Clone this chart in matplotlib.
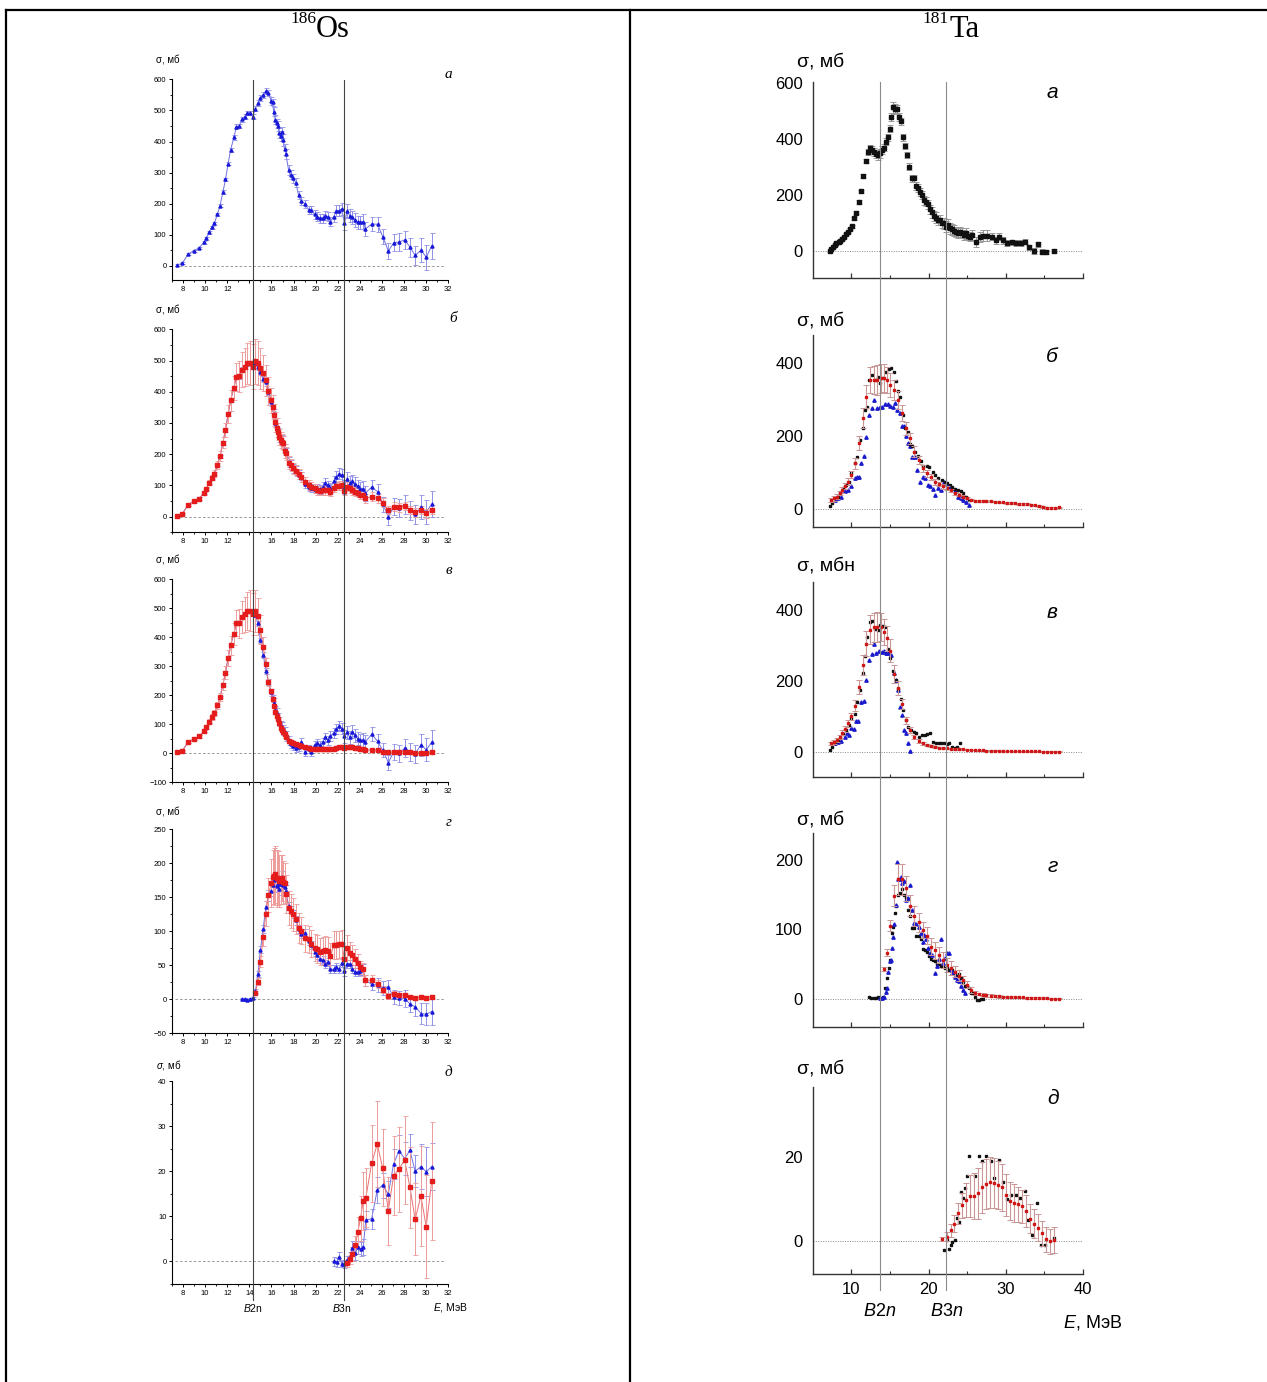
import numpy as np
import matplotlib
matplotlib.use('Agg')
import matplotlib.pyplot as plt
import matplotlib.transforms as mtransforms
from matplotlib.lines import Line2D
from matplotlib.ticker import MultipleLocator

plt.rcParams['font.family'] = ['Liberation Sans', 'DejaVu Sans']
plt.rcParams['mathtext.fontset'] = 'custom'
plt.rcParams['mathtext.it'] = 'Liberation Sans:italic'
plt.rcParams['mathtext.rm'] = 'Liberation Sans'

W, H = 1267, 1382

# ---------------- 186Os data (left column) ----------------
B_OS = [14.35, 22.6]

E_OS = [7.46, 7.94, 8.45, 8.97, 9.45, 9.9, 10.1, 10.36, 10.6, 10.84,
        11.1, 11.35, 11.6, 11.84, 12.08, 12.3, 12.6, 12.83, 13.08, 13.3,
        13.56, 13.8, 14.04, 14.3, 14.55, 14.77, 15.0, 15.25, 15.5, 15.73,
        15.97, 16.1, 16.2, 16.34, 16.46, 16.58, 16.7, 16.82, 16.94, 17.06,
        17.18, 17.3, 17.55, 17.73, 17.97, 18.2, 18.45, 18.7, 19.06, 19.36,
        19.6, 19.9, 20.14, 20.38, 20.62, 20.86, 21.1, 21.33, 21.64, 21.88,
        22.12, 22.36, 22.6, 22.84, 23.08, 23.3, 23.56, 23.8, 24.04, 24.3,
        24.5, 25.07, 25.6, 26.07, 26.58, 27.06, 27.55, 28.06, 28.54, 29.0,
        29.54, 30.0, 30.5]

# panel a (blue)
SIG_A = [3, 9, 38, 49, 58, 76, 89, 109, 125, 138,
         166, 194, 237, 278, 329, 373, 413, 448, 449, 471,
         480, 491, 492, 480, 506, 523, 539, 550, 563, 555,
         530, 526, 496, 470, 459, 450, 426, 418, 430, 405,
         375, 360, 309, 293, 282, 268, 228, 210, 199, 180,
         180, 166, 159, 153, 153, 162, 159, 143, 159, 178,
         178, 184, 137, 176, 162, 156, 148, 140, 140, 143,
         119, 135, 134, 94, 48, 75, 77, 84, 60, 34,
         51, 28, 65]
ERR_A = [3, 3, 4, 4, 4, 4, 4, 5, 5, 5,
         5, 5, 6, 6, 6, 6, 7, 7, 7, 7,
         7, 7, 7, 8, 8, 9, 9, 10, 10, 10,
         12, 12, 14, 14, 15, 15, 16, 16, 18, 18,
         18, 16, 16, 15, 14, 14, 13, 13, 13, 14,
         14, 14, 14, 14, 15, 15, 15, 16, 16, 17,
         18, 20, 22, 22, 22, 22, 22, 22, 22, 24,
         24, 24, 24, 24, 26, 28, 30, 30, 30, 30,
         38, 40, 42]

# panel b
SIG_B_RED = SIG_A[:24] + [
    498, 491, 475, 459, 437, 403, 373, 352, 325, 304,
    285, 272, 256, 245, 240, 235, 210, 203, 173, 165,
    155, 147, 137, 128, 112, 101, 96, 91, 85, 83,
    84, 85, 85, 80, 93, 98, 99, 101, 82, 96,
    91, 85, 80, 77, 71, 71, 59, 64, 59, 45,
    21, 32, 30, 34, 21, 14, 21, 11, 23]
SIG_B_BLUE = SIG_A[:24] + [
    491, 480, 462, 440, 430, 400, 368, 350, 330, 300,
    285, 270, 255, 250, 245, 240, 215, 205, 175, 165,
    155, 147, 135, 130,
    105, 96, 92, 90, 92, 88, 95, 108, 100, 92,
    115, 128, 138, 133, 95, 122, 108, 113, 105, 97,
    90, 90, 75, 95, 80, 40, 0, 32, 28, 38,
    20, 8, 30, 15, 40]
ERR_B_RED = [2, 2, 3, 3, 4, 5, 6, 8, 9, 10,
             12, 15, 18, 22, 28, 33, 38, 45, 50, 55,
             60, 65, 70, 72, 72, 70, 65, 58, 50, 45,
             40, 38, 35, 32, 30, 28, 26, 25, 24, 23,
             22, 21, 20, 19, 18, 17, 16, 16, 15, 15,
             15, 14, 14, 14, 14, 14, 14, 14, 14, 14,
             14, 14, 14, 14, 14, 14, 14, 14, 14, 14,
             14, 14, 14, 14, 14, 14, 14, 14, 14, 14,
             14, 14, 14]

# panel v
SIG_V_RED = SIG_A[:24] + [
    491, 472, 426, 367, 308, 245, 214, 186, 163, 143,
    128, 117, 105, 88, 82, 73, 65, 57, 42, 39,
    34, 31, 27, 24, 21, 18, 16, 15, 14, 14,
    14, 14, 14, 14, 16, 18, 21, 23, 18, 23,
    22, 21, 18, 17, 16, 15, 11, 11, 10, 6,
    3, 5, 5, 5, 3, 2, 2, 2, 5]
SIG_V_BLUE = SIG_A[:24] + [
    478, 448, 390, 340, 285, 245, 210, 190, 175, 150,
    140, 125, 110, 95, 90, 80, 72, 60, 45, 32,
    25, 20, 22, 40, 5, 15, 5, 30, 35, 30,
    38, 55, 45, 60, 70, 85, 95, 85, 58, 72,
    55, 75, 62, 50, 45, 45, 40, 65, 42, 10,
    -32, 5, 0, 18, 5, -2, 30, 12, 38]
ERR_V_RED = [2, 2, 3, 3, 4, 5, 6, 8, 9, 10,
             12, 15, 18, 22, 28, 33, 38, 45, 50, 55,
             60, 65, 70, 72, 72, 65, 50, 35, 20, 12,
             8, 6, 5, 4, 3, 3, 3, 3, 3, 3,
             3, 3, 3, 3, 3, 3, 3, 3, 3, 3,
             3, 3, 3, 3, 3, 3, 3, 3, 3, 3,
             3, 3, 3, 3, 3, 3, 3, 3, 3, 3,
             3, 3, 3, 3, 3, 3, 3, 3, 3, 3,
             3, 3, 3]

# panel g
E_G = [13.3, 13.56, 13.8, 14.04, 14.3] + E_OS[24:]
SIG_G_BLUE = [0, 0, -1, 0, 2,
              12, 37, 73, 104, 136, 153, 160, 168, 175, 178,
              166, 170, 162, 170, 180, 168, 165, 160, 137, 131,
              126, 116, 104, 96, 98, 86, 80, 70, 65, 60,
              58, 52, 55, 44, 44, 48, 44, 54, 41, 52,
              52, 44, 40, 40, 42, 44, 28, 22, 21, 17,
              18, 3, 2, 1, -7, -11, -21, -22, -18]
ERR_G_BLUE = [2, 2, 2, 2, 2, 3, 4, 5, 6, 8,
              8, 8, 8, 8, 8, 8, 8, 8, 8, 8,
              8, 8, 8, 6, 6, 6, 6, 6, 6, 6,
              6, 6, 6, 6, 6, 6, 6, 6, 6, 6,
              6, 6, 6, 6, 6, 6, 6, 6, 6, 6,
              8, 8, 8, 10, 10, 10, 10, 10, 12, 12,
              14, 15, 16, 20]
SIG_G_RED = [10, 26, 55, 91, 126, 153, 171, 180, 181, 184,
             178, 178, 174, 176, 178, 172, 171, 155, 135, 130,
             125, 118, 105, 101, 90, 88, 82, 76, 74, 70,
             71, 73, 71, 63, 80, 80, 81, 82, 59, 76,
             68, 65, 60, 54, 47, 44, 28, 28, 22, 14,
             5, 8, 7, 6, 4, 2, 3, 2, 4]
ERR_G_RED = [2, 5, 8, 12, 18, 25, 35, 40, 42, 42,
             42, 40, 38, 36, 34, 32, 30, 28, 25, 25,
             24, 22, 22, 20, 20, 20, 20, 20, 20, 20,
             20, 20, 20, 20, 20, 20, 20, 20, 18, 18,
             16, 15, 14, 12, 10, 10, 8, 8, 6, 5,
             4, 4, 3, 3, 3, 3, 3, 3, 3]

# panel d
E_D_BLUE = [21.65, 21.9, 22.1, 22.37, 22.6, 22.85, 23.1, 23.3, 23.6, 23.8,
            24.06, 24.3, 24.54, 25.06, 25.57, 26.05, 26.57, 27.05, 27.53, 28.05,
            28.53, 29.0, 29.52, 30.0, 30.5]
SIG_D_BLUE = [0, -0.2, 1.0, -0.5, -0.7, 0.3, 1.0, 2.9, 1.8, 3.1,
              2.7, 3.2, 9.2, 9.4, 15.8, 16.9, 14.9, 21.6, 24.5, 22.8,
              24.6, 20.0, 21.0, 19.9, 21.0]
ERR_D_BLUE = [1, 1, 1, 0.8, 0.8, 0.8, 1, 1.5, 1.5, 1.5,
              1.5, 1.8, 2, 2.2, 2.8, 2.8, 3, 3.4, 3.6, 3.6,
              3.6, 3.5, 5, 5.5, 5.2]
E_D_RED = [22.85, 23.1, 23.3, 23.6, 23.8, 24.06, 24.3, 24.54, 25.06, 25.57,
           26.05, 26.57, 27.05, 27.53, 28.05, 28.53, 29.0, 29.52, 30.0, 30.5]
SIG_D_RED = [-0.4, 0.5, 1.6, 3.6, 6.4, 9.5, 13.4, 14.1, 21.7, 26.0,
             20.8, 11.2, 19.0, 20.4, 22.5, 16.4, 9.3, 14.5, 7.7, 17.8]
ERR_D_RED = [0.8, 1, 1.5, 2, 3.5, 5, 6.5, 6.5, 8.5, 9.6,
             8.5, 7.5, 8.8, 9.4, 9.8, 9, 8, 11, 11.5, 13]

# ---------------- 181Ta data (right column) ----------------
B_TA = [13.67, 22.2]

E_TA_A = [7.19, 7.4, 7.6, 7.84, 8.05, 8.35, 8.57, 8.83, 9.0, 9.26,
          9.52, 9.78, 10.04, 10.35, 10.65, 10.95, 11.26, 11.56, 11.86, 12.12,
          12.38, 12.64, 12.9, 13.16, 13.42, 13.68, 13.94, 14.2, 14.46, 14.72,
          14.98, 15.15, 15.4, 15.67, 15.93, 16.2, 16.45, 16.7, 16.97, 17.23,
          17.5, 17.84, 18.1, 18.35, 18.6, 18.87, 19.13, 19.4, 19.65, 19.9,
          20.17, 20.43, 20.7, 20.95, 21.2, 21.47, 21.73, 22.0, 22.25, 22.5,
          22.77, 23.03, 23.3, 23.55, 23.8, 24.07, 24.33, 24.6, 24.85, 25.1,
          25.37, 25.63, 26.15, 26.67, 27.1, 27.62, 28.18, 28.7, 29.18, 29.7,
          30.2, 30.78, 31.34, 31.95, 32.5, 33.07, 33.6, 34.16, 34.68, 35.2,
          36.28]
SIG_TA_A = [1, 7, 14, 23, 29, 32, 38, 44, 52, 61,
            70, 79, 90, 118, 138, 177, 215, 269, 323, 356,
            368, 362, 356, 348, 343, 350, 362, 371, 392, 407,
            438, 481, 514, 507, 507, 481, 465, 407, 376, 344,
            302, 261, 261, 233, 225, 213, 201, 183, 177, 169,
            150, 139, 127, 121, 112, 112, 102, 100, 88, 95,
            82, 79, 74, 70, 67, 70, 67, 58, 64, 55,
            52, 58, 35, 52, 56, 56, 52, 40, 52, 40,
            29, 32, 31, 29, 35, 14, 2, 25, -1, -2,
            1]
ERR_TA_A = [2, 2, 3, 3, 3, 3, 3, 3, 4, 4,
            4, 4, 5, 5, 5, 6, 6, 7, 8, 10,
            12, 14, 15, 15, 15, 15, 15, 14, 12, 12,
            12, 15, 18, 18, 16, 14, 12, 12, 12, 12,
            12, 12, 12, 14, 14, 15, 15, 16, 16, 16,
            16, 18, 18, 18, 18, 18, 18, 20, 20, 20,
            20, 20, 20, 18, 18, 18, 18, 18, 18, 16,
            16, 18, 18, 18, 20, 20, 12, 12, 12, 12,
            10, 10, 10, 10, 10, 10, 10, 10, 8, 8,
            8]

# red (evaluated) grid shared by panels b, v, g
E_RED = [7.4, 7.75, 8.14, 8.48, 8.83, 9.18, 9.57, 10.0,
         10.48, 11.0, 11.47, 11.95, 12.38, 12.9, 13.33, 13.8, 14.29, 14.63,
         15.06, 15.58, 16.06, 16.58, 17.14, 17.66, 18.18, 18.7, 19.22, 19.74,
         20.26, 20.78, 21.3, 21.82, 22.34, 22.86, 23.38, 23.9, 24.42, 24.94,
         25.45, 25.97, 26.5, 27.0, 27.5, 28.05, 28.57, 29.1, 29.6, 30.13,
         30.65, 31.17, 31.69, 32.2, 32.73, 33.25, 33.77, 34.3, 34.8, 35.3,
         35.85, 36.36, 36.9]

# panel b (Ta)
E_TB_K = [7.19, 7.53, 7.92, 8.27, 8.57, 8.92, 9.26, 9.65, 10.0, 10.43,
          10.74, 11.17, 11.52, 11.82, 12.03, 12.25, 12.64, 13.03, 13.42, 13.77,
          14.11, 14.55, 14.9, 15.2, 15.5, 15.76, 16.06, 16.36, 16.7, 17.0,
          17.3, 17.58, 17.92, 18.3, 18.66, 18.96, 19.3, 19.74, 20.09, 20.52,
          20.87, 21.26, 21.7, 22.08, 22.42, 22.77, 23.1, 23.46, 23.8, 24.16,
          24.5, 24.85, 25.2]
SIG_TB_K = [6, 15, 28, 31, 42, 56, 65, 74, 97, 125,
            141, 189, 221, 272, 279, 354, 368, 354, 363, 345,
            359, 377, 383, 386, 377, 350, 325, 306, 258, 221,
            212, 178, 171, 157, 145, 132, 118, 116, 114, 100,
            93, 83, 79, 72, 69, 65, 59, 54, 50, 47,
            42, 33, 24]
SIG_TB_R = [24, 28, 33, 42, 51, 62, 74, 93,
            125, 180, 249, 308, 354, 354, 354, 359, 359, 354,
            340, 327, 299, 262, 221, 194, 157, 134, 111, 97,
            88, 74, 67, 61, 56, 50, 42, 38, 33, 28,
            24, 22, 21, 21, 21, 20, 19, 17, 17, 15,
            15, 14, 13, 13, 12, 11, 9, 7, 4, 2,
            2, 2, 3]
ERR_TB_R = [6, 6, 6, 6, 7, 8, 9, 10,
            15, 20, 28, 32, 35, 38, 40, 40, 38, 36,
            32, 28, 25, 22, 18, 15, 14, 12, 10, 10,
            8, 8, 6, 6, 5, 5, 4, 4, 3, 3,
            2, 2, 2, 2, 2, 2, 2, 2, 2, 2,
            2, 2, 2, 2, 2, 2, 2, 2, 2, 2,
            2, 2, 2]
E_TB_B = [7.84, 8.27, 8.7, 9.13, 9.57, 10.0, 10.43, 10.74, 11.0, 11.3,
          11.6, 11.95, 12.3, 12.64, 12.99, 13.33, 13.68, 14.03, 14.37, 14.76,
          15.06, 15.4, 15.67, 15.93, 16.28, 16.62, 16.88, 17.14, 17.4, 17.66,
          17.92, 18.22, 18.53, 18.87, 19.22, 19.57, 19.91, 20.17, 20.52, 20.87,
          21.2, 21.56, 22.0, 22.34, 22.77, 23.1, 23.46, 23.8, 24.16, 24.5,
          24.85, 25.2]
SIG_TB_B = [24, 28, 31, 47, 51, 61, 83, 86, 86, 125,
            145, 198, 258, 276, 299, 276, 279, 281, 287, 287,
            283, 281, 290, 272, 262, 228, 226, 200, 180, 171,
            143, 143, 106, 72, 88, 83, 65, 61, 53, 38,
            56, 51, 72, 68, 59, 56, 47, 33, 28, 24,
            17, 11]

# panel v (Ta)
E_TV_K = [7.19, 7.53, 7.92, 8.27, 8.57, 8.92, 9.26, 9.65, 10.0, 10.43,
          10.74, 11.17, 11.52, 11.82, 12.08, 12.38, 12.73, 13.07, 13.42, 13.77,
          14.11, 14.42, 14.72, 15.06, 15.4, 15.76, 16.1, 16.4, 16.71, 17.06,
          17.4, 17.75, 18.1, 18.44, 18.8, 19.13, 19.48, 19.83, 20.17, 20.6,
          20.95, 21.3, 21.65, 22.0, 22.34, 22.7, 23.03, 23.38, 23.72, 24.07]
SIG_TV_K = [5, 14, 25, 30, 38, 50, 61, 75, 94, 108,
            141, 174, 221, 270, 325, 367, 370, 346, 344, 358,
            355, 351, 289, 264, 229, 202, 176, 150, 118, 91,
            71, 61, 56, 54, 42, 47, 47, 50, 52, 28,
            25, 25, 24, 25, 22, 26, 14, 12, 14, 24]
SIG_TV_R = [24, 28, 33, 42, 54, 65, 80, 100,
            130, 184, 245, 305, 345, 351, 352, 352, 338, 320,
            285, 220, 180, 135, 89, 61, 42, 31, 24, 19,
            16, 14, 12, 11, 10, 9, 8, 8, 7, 6,
            5, 5, 4, 4, 3, 3, 3, 3, 2, 2,
            2, 2, 2, 1, 1, 1, 1, 1, 0, 0,
            0, 0, 0]
ERR_TV_R = [5, 5, 6, 6, 7, 8, 9, 10,
            15, 20, 28, 35, 40, 42, 42, 40, 38, 36,
            32, 25, 20, 15, 10, 8, 6, 5, 4, 3,
            3, 2, 2, 2, 2, 2, 2, 2, 2, 2,
            1, 1, 1, 1, 1, 1, 1, 1, 1, 1,
            1, 1, 1, 1, 1, 1, 1, 1, 1, 1,
            1, 1, 1]
E_TV_B = [7.84, 8.27, 8.7, 9.13, 9.44, 9.7, 10.0, 10.3, 10.56, 10.87,
          11.3, 11.6, 11.95, 12.3, 12.64, 12.9, 13.25, 13.6, 13.94, 14.29,
          14.55, 14.8, 15.15, 15.5, 15.76, 16.0, 16.36, 16.62, 16.88, 17.14,
          17.4, 17.66]
SIG_TV_B = [25, 28, 31, 42, 54, 47, 66, 63, 87, 88,
            141, 144, 202, 259, 276, 303, 280, 285, 282, 284,
            280, 280, 273, 221, 204, 174, 127, 104, 61, 52,
            24, 1]

# panel g (Ta)
E_TG_K = [12.29, 12.6, 12.9, 13.16, 13.46, 13.77, 14.11, 14.37, 14.63, 14.9,
          15.06, 15.24, 15.4, 15.63, 15.84, 16.1, 16.36, 16.62, 16.88, 17.14,
          17.4, 17.66, 17.92, 18.18, 18.44, 18.7, 18.96, 19.22, 19.48, 19.74,
          20.0, 20.26, 20.52, 20.78, 21.04, 21.3, 21.56, 21.82, 22.08, 22.34,
          22.6, 22.86, 23.1, 23.38, 23.64, 23.9, 24.16, 24.42, 24.68, 24.94,
          25.2, 25.45, 25.71, 25.97, 26.23, 26.5, 26.75, 27.0]
SIG_TG_K = [2, 1, 1.5, 1.5, 2, 1.5, 2, 15, 30, 44,
            56, 94, 104, 123, 133, 150, 152, 158, 150, 145,
            128, 119, 102, 102, 91, 91, 86, 71, 70, 67,
            61, 57, 56, 54, 50, 50, 47, 47, 44, 44,
            42, 43, 41, 37, 33, 36, 30, 24, 19, 18,
            15, 9, 8, 2, -2, -2, 0.5, 0.5]
E_TG_R = E_RED[16:]
SIG_TG_R = [43, 66, 105, 148, 172, 172, 159, 134, 119, 110,
            99, 91, 75, 70, 63, 56, 49, 44, 39, 33,
            27, 20, 13, 9, 7, 6, 5, 4.5, 4, 3.5,
            3, 3, 2.5, 2.5, 2, 2, 1.5, 1.5, 1.2, 1,
            1, 0.8, 0.5, 0.5, 0.5]
ERR_TG_R = [3, 5, 8, 15, 22, 22, 18, 15, 14, 14,
            12, 12, 12, 12, 12, 12, 10, 10, 8, 8,
            6, 5, 4, 3, 2, 2, 2, 2, 2, 2,
            1, 1, 1, 1, 1, 1, 1, 1, 1, 1,
            1, 1, 1, 1, 1]
E_TG_B = [13.68, 13.94, 14.2, 14.46, 14.63, 14.8, 14.98, 15.1, 15.24, 15.4,
          15.54, 15.76, 15.93, 16.1, 16.28, 16.45, 16.62, 16.88, 17.14, 17.4,
          17.66, 17.92, 18.18, 18.44, 18.78, 19.05, 19.22, 19.4, 19.65, 19.9,
          20.17, 20.43, 20.78, 21.04, 21.3, 21.56, 21.82, 22.08, 22.34, 22.6,
          22.86, 23.1, 23.46, 23.72, 24.0, 24.25, 24.5, 24.76]
SIG_TG_B = [1, 1, 3, 10, 15, 39, 54, 56, 73, 89,
            108, 135, 197, 173, 172, 175, 167, 169, 142, 145,
            164, 128, 109, 108, 104, 94, 82, 92, 86, 73,
            66, 63, 37, 47, 57, 86, 51, 59, 66, 66,
            42, 37, 32, 27, 25, 18, 13, 9]

# panel d (Ta)
E_TD_R = [21.7, 22.34, 22.86, 23.33, 23.85, 24.37, 24.85, 25.37, 25.89, 26.4,
          26.93, 27.45, 27.97, 28.5, 29.0, 29.52, 30.04, 30.56, 31.08, 31.6,
          32.1, 32.64, 33.16, 33.68, 34.2, 34.72, 35.24, 35.76, 36.28]
SIG_TD_R = [0.6, 1.1, 2.6, 4.2, 6.7, 8.6, 9.8, 10.7, 10.7, 11.4,
            12.8, 13.6, 14.0, 13.8, 13.4, 12.8, 10.9, 9.5, 9.1, 8.8,
            8.3, 7.2, 5.4, 4.2, 3.2, 1.9, 0.5, 0, 0.3]
ERR_TD_R = [0.5, 1, 1.5, 2, 2.5, 3, 4, 5, 5.5, 6,
            6, 6, 6, 6, 5.8, 5.5, 5, 4.5, 4.5, 4.2,
            4, 3.8, 3.5, 3.5, 3.2, 3, 3, 3, 3]
E_TD_K = [22.0, 22.34, 22.6, 22.86, 23.1, 23.38, 23.64, 23.9, 24.16, 24.42,
          24.68, 24.94, 25.28, 26.06, 26.58, 26.93, 27.45, 28.05, 28.48, 29.1,
          29.6, 30.22, 30.74, 31.26, 31.86, 32.47, 32.94, 33.42, 34.0, 34.55,
          35.06, 36.2]
SIG_TD_K = [-2.2, 0.2, -1.9, -1.0, -0.1, 0.2, 5.6, 4.5, 11.8, 10.3,
            12.7, 15.6, 20.3, 15.6, 20.2, 19.0, 20.2, 19.0, 15.1, 19.4,
            14.2, 10.0, 11.1, 11.1, 10.2, 12.0, 5.1, 1.4, 9.0, -0.8,
            -1.0, 0.8]


def box(x0, y0, x1, y1):
    return [x0 / W, 1 - y1 / H, (x1 - x0) / W, (y1 - y0) / H]


def fx(px):
    return px / W


def fy(py):
    return 1 - py / H


fig = plt.figure(figsize=(W / 100, H / 100), dpi=100)


def make_left(top, bottom, ylim, yticks, ystep, show14=False):
    ax = fig.add_axes(box(172, top, 448.3, bottom))
    ax.set_xlim(7, 32)
    ax.set_ylim(*ylim)
    for s in ('top', 'right'):
        ax.spines[s].set_visible(False)
    for s in ('left', 'bottom'):
        ax.spines[s].set_linewidth(0.8)
    xt = list(range(8, 33, 2))
    ax.set_xticks(xt)
    ax.set_xticklabels([str(t) if (t != 14 or show14) else '' for t in xt])
    ax.xaxis.set_minor_locator(MultipleLocator(1))
    ax.set_yticks(yticks)
    ax.yaxis.set_minor_locator(MultipleLocator(ystep / 2))
    ax.tick_params(which='major', direction='out', length=2.5, width=0.7,
                   labelsize=5.5, pad=1.5)
    ax.tick_params(which='minor', direction='out', length=1.5, width=0.6)
    ax.axhline(0, xmin=0.01, xmax=0.985, color='#888888', lw=0.6,
               ls=(0, (3, 2.5)), zorder=1)
    return ax


def os_plot(ax, E, s, err, kind):
    if kind == 'blue':
        c, ec, lc, m = '#1818d8', '#9090e8', '#7070e2', '^'
    else:
        c, ec, lc, m = '#e41c1c', '#ee9a9a', '#ec7070', 's'
    ax.plot(E, s, color=lc, lw=0.7, zorder=2)
    ax.errorbar(E, s, yerr=err, fmt='none', ecolor=ec, elinewidth=0.7,
                capsize=1.8, capthick=0.6, zorder=2)
    ax.plot(E, s, ls='none', marker=m, ms=2.2, color=c, zorder=3)


hundreds = [0, 100, 200, 300, 400, 500, 600]
axa = make_left(79.3, 280, (-45, 600), hundreds, 100)
os_plot(axa, E_OS, SIG_A, ERR_A, 'blue')

axb = make_left(329.3, 532.3, (-50, 600), hundreds, 100)
os_plot(axb, E_OS, SIG_B_BLUE, ERR_A, 'blue')
os_plot(axb, E_OS, SIG_B_RED, ERR_B_RED, 'red')

axv = make_left(579.3, 782.3, (-100, 600), [-100] + hundreds, 100)
os_plot(axv, E_OS, SIG_V_BLUE, ERR_A, 'blue')
os_plot(axv, E_OS, SIG_V_RED, ERR_V_RED, 'red')

axg = make_left(829.3, 1033.3, (-50, 250), [-50, 0, 50, 100, 150, 200, 250], 50)
os_plot(axg, E_G, SIG_G_BLUE, ERR_G_BLUE, 'blue')
os_plot(axg, E_OS[24:], SIG_G_RED, ERR_G_RED, 'red')

axd = make_left(1081, 1284.3, (-5.1, 40), [0, 10, 20, 30, 40], 10, show14=True)
os_plot(axd, E_D_BLUE, SIG_D_BLUE, ERR_D_BLUE, 'blue')
os_plot(axd, E_D_RED, SIG_D_RED, ERR_D_RED, 'red')

left_ylabels = [(59, 'σ, мб'), (309, 'σ, мб'), (559, 'σ, мб'), (811, 'σ, мб'),
                (1065, r'$\sigma$, мб')]
for py, t in left_ylabels:
    fig.text(fx(156), fy(py), t, fontsize=7, va='center', ha='left')

for px, py, t in [(452, 75, 'а'), (457, 319, 'б'), (452, 570, 'в'),
                  (452, 823, 'г'), (452, 1073, 'д')]:
    fig.text(fx(px), fy(py), t, fontsize=11, family='Liberation Serif',
             style='italic', ha='right', va='center')

fig.text(fx(253), fy(1308), r'$B$2n', fontsize=7.5, ha='center', va='center')
fig.text(fx(342), fy(1308), r'$B$3n', fontsize=7.5, ha='center', va='center')
fig.text(fx(450), fy(1307), r'$E$, МэВ', fontsize=7.5, ha='center', va='center')

trans_l = mtransforms.blended_transform_factory(axa.transData, fig.transFigure)
for e in B_OS:
    fig.add_artist(Line2D([e, e], [fy(1300), fy(80)], transform=trans_l,
                          color='#444444', lw=0.8))


# ---------------- right column ----------------
def make_right(top, bottom, ylim, yticks, xlabels=False):
    ax = fig.add_axes(box(812.7, top, 1083, bottom))
    ax.set_xlim(5, 40)
    ax.set_ylim(*ylim)
    for s in ('top', 'right'):
        ax.spines[s].set_visible(False)
    for s in ('left', 'bottom'):
        ax.spines[s].set_linewidth(1.0)
        ax.spines[s].set_color('#333333')
    ax.set_xticks([10, 20, 30, 40])
    ax.set_xticks([15, 25, 35], minor=True)
    if not xlabels:
        ax.set_xticklabels([])
    ax.set_yticks(yticks)
    ax.tick_params(axis='x', which='major', direction='in', length=3.5,
                   width=0.9, labelsize=12, pad=6, color='#333333')
    ax.tick_params(axis='x', which='minor', direction='in', length=2,
                   width=0.8, color='#333333')
    ax.tick_params(axis='y', length=0, labelsize=12, pad=7)
    ax.axhline(0, color='#888888', lw=0.7, ls=(0, (1, 1.5)), zorder=1)
    return ax


def ta_black(ax, E, s, ms=2.0):
    ax.plot(E, s, ls='none', marker='s', ms=ms, color='#111111', zorder=3)


def ta_blue(ax, E, s):
    ax.plot(E, s, ls='none', marker='^', ms=2.4, color='#1a1acc', zorder=3)


def ta_red(ax, E, s, err):
    ax.errorbar(E, s, yerr=err, fmt='s', ms=1.8, color='#d01515',
                ecolor='#c99595', elinewidth=0.8, capsize=2.2, capthick=0.7,
                zorder=4)


ra = make_right(82, 278.3, (-96, 605), [0, 200, 400, 600])
ra.errorbar(E_TA_A, SIG_TA_A, yerr=ERR_TA_A, fmt='s', ms=3.4, color='#111111',
            ecolor='#9a9a9a', elinewidth=0.8, capsize=2, capthick=0.7, zorder=3)

rb = make_right(335, 526.7, (-50, 478), [0, 200, 400])
ta_blue(rb, E_TB_B, SIG_TB_B)
ta_black(rb, E_TB_K, SIG_TB_K)
ta_red(rb, E_RED, SIG_TB_R, ERR_TB_R)

rv = make_right(581.7, 777.3, (-72, 480), [0, 200, 400])
ta_blue(rv, E_TV_B, SIG_TV_B)
ta_black(rv, E_TV_K, SIG_TV_K)
ta_red(rv, E_RED, SIG_TV_R, ERR_TV_R)

rg = make_right(833.3, 1026.7, (-40, 238), [0, 100, 200])
ta_black(rg, E_TG_K, SIG_TG_K)
ta_red(rg, E_TG_R, SIG_TG_R, ERR_TG_R)
ta_blue(rg, E_TG_B, SIG_TG_B)

rd = make_right(1086.7, 1274, (-7.8, 36.8), [0, 20], xlabels=True)
ta_black(rd, E_TD_K, SIG_TD_K)
ta_red(rd, E_TD_R, SIG_TD_R, ERR_TD_R)

for py, t in [(62, 'σ, мб'), (321, 'σ, мб'), (566, 'σ, мбн'), (820, 'σ, мб'),
              (1069, 'σ, мб')]:
    fig.text(fx(797), fy(py), t, fontsize=14, va='center', ha='left')

for px, py, t in [(1058, 92, 'а'), (1058, 357, 'б'), (1057, 612, 'в'),
                  (1058, 867, 'г'), (1059, 1098, 'д')]:
    fig.text(fx(px), fy(py), t, fontsize=15, style='italic', ha='right',
             va='center')

fig.text(fx(880), fy(1312), r'$B$2$n$', fontsize=13, ha='center', va='center')
fig.text(fx(947), fy(1312), r'$B$3$n$', fontsize=13, ha='center', va='center')
fig.text(fx(1093), fy(1323), r'$E$, МэВ', fontsize=13, ha='center', va='center')

trans_r = mtransforms.blended_transform_factory(ra.transData, fig.transFigure)
for e in B_TA:
    fig.add_artist(Line2D([e, e], [fy(1290), fy(82)], transform=trans_r,
                          color='#8a8a8a', lw=0.8))

# ---------------- table frame and headers ----------------
fig.add_artist(Line2D([fx(6), fx(1267)], [fy(10), fy(10)],
                      transform=fig.transFigure, color='black', lw=1.6))
for px in (6, 630):
    fig.add_artist(Line2D([fx(px), fx(px)], [fy(10), fy(1382)],
                          transform=fig.transFigure, color='black', lw=1.6))

fig.text(fx(316), fy(23), '186', fontsize=12.5, family='Liberation Serif',
         ha='right', va='baseline')
fig.text(fx(316), fy(37), 'Os', fontsize=22, family='Liberation Serif',
         ha='left', va='baseline')
fig.text(fx(949), fy(23), '181', fontsize=12.5, family='Liberation Serif',
         ha='right', va='baseline')
fig.text(fx(949), fy(37), 'Ta', fontsize=22, family='Liberation Serif',
         ha='left', va='baseline')

fig.savefig('out.png', dpi=100)
